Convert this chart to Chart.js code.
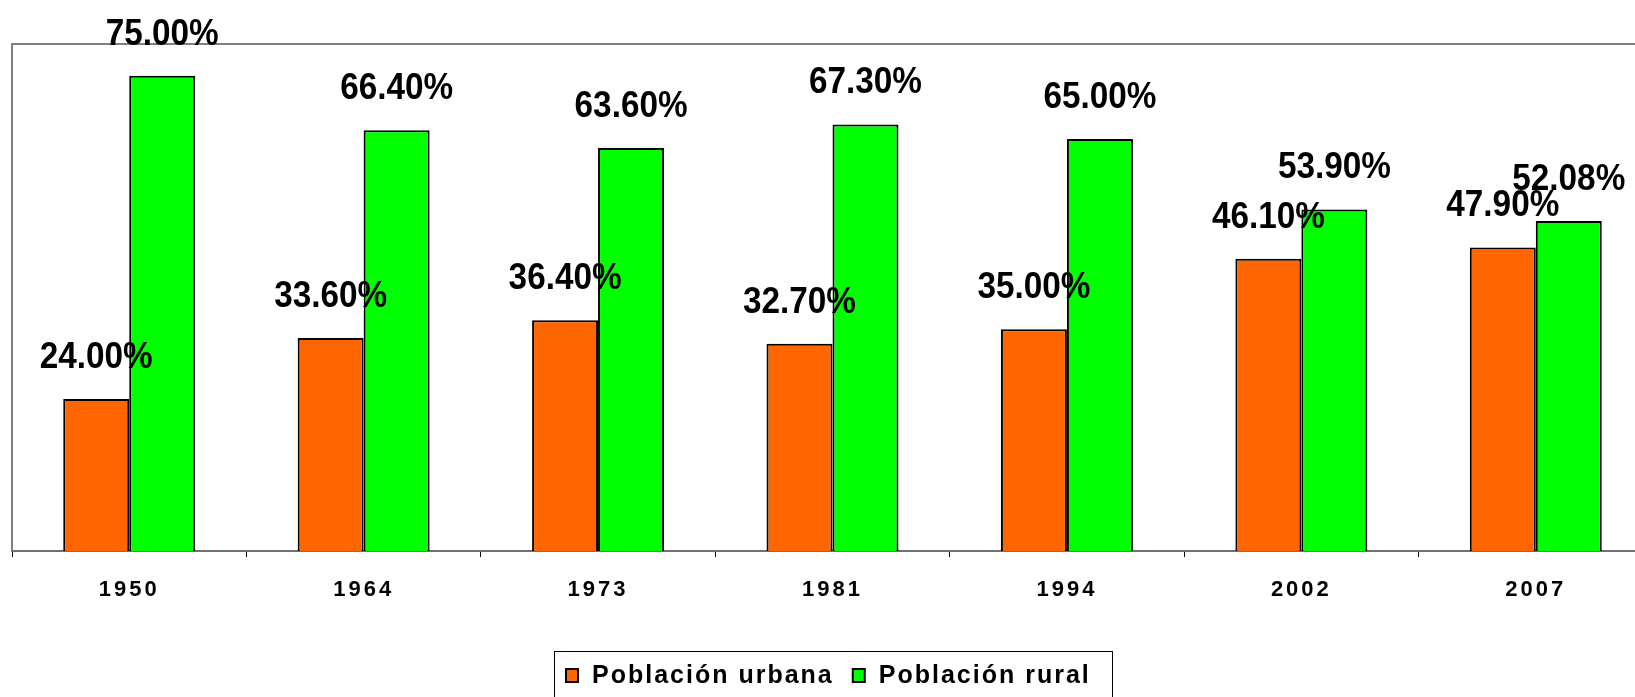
<!DOCTYPE html>
<html><head><meta charset="utf-8">
<script src="https://cdn.jsdelivr.net/npm/chart.js@4.4.0/dist/chart.umd.min.js"></script>
<style>
html,body{margin:0;padding:0;background:#fff;overflow:hidden;}
#wrap{width:1635px;height:697px;overflow:hidden;position:relative;background:#fff;}
#c{position:absolute;left:0;top:0;}
</style></head><body>
<div id="wrap"><canvas id="c" width="1655" height="697"></canvas></div>
<script>
const categories = ['1950','1964','1973','1981','1994','2002','2007'];
const urbana = [24.00, 33.60, 36.40, 32.70, 35.00, 46.10, 47.90];
const rural  = [75.00, 66.40, 63.60, 67.30, 65.00, 53.90, 52.08];
const seriesNames = ['Población urbana', 'Población rural'];
const yMin = 0, yMax = 80;

const FONT = '"Liberation Sans", Arial, sans-serif';

const frameAndLabels = {
  id: 'frameAndLabels',
  beforeDraw(chart) {
    chart.ctx.letterSpacing = '3px';
  },
  afterDatasetsDraw(chart) {
    const ctx = chart.ctx;
    const a = chart.chartArea;
    ctx.save();
    ctx.letterSpacing = '0px';
    ctx.strokeStyle = '#808080';
    ctx.lineWidth = 2;
    ctx.beginPath();
    ctx.moveTo(a.left, a.bottom);
    ctx.lineTo(a.left, a.top);
    ctx.lineTo(a.right, a.top);
    ctx.stroke();
    chart.data.datasets.forEach((ds, i) => {
      const meta = chart.getDatasetMeta(i);
      meta.data.forEach((bar, j) => {
        const txt = ds.data[j].toFixed(2) + '%';
        ctx.save();
        ctx.translate(bar.x, bar.y - 31);
        ctx.scale(0.9, 1);
        ctx.font = 'bold 37px ' + FONT;
        ctx.textAlign = 'center';
        ctx.textBaseline = 'alphabetic';
        ctx.fillStyle = '#000';
        ctx.fillText(txt, 0, 0);
        ctx.restore();
      });
    });
    ctx.restore();
  },
  afterDraw(chart) {
    const ctx = chart.ctx;
    ctx.save();
    ctx.letterSpacing = '2px';
    ctx.font = 'bold 25px ' + FONT;
    ctx.textBaseline = 'alphabetic';
    ctx.textAlign = 'left';
    ctx.strokeStyle = '#000';
    ctx.lineWidth = 1;
    ctx.strokeRect(554.5, 651.5, 558, 60);
    let x = 566;
    chart.data.datasets.forEach((ds, i) => {
      ctx.fillStyle = ds.backgroundColor;
      ctx.fillRect(x, 669, 12, 13);
      ctx.strokeStyle = '#000';
      ctx.lineWidth = 2;
      ctx.strokeRect(x, 669, 12, 13);
      ctx.fillStyle = '#000';
      ctx.fillText(ds.label, x + 26, 683);
      x = x + 26 + ctx.measureText(ds.label).width + 19;
    });
    ctx.restore();
  }
};

new Chart(document.getElementById('c'), {
  type: 'bar',
  data: {
    labels: categories,
    datasets: [
      { label: seriesNames[0], data: urbana, backgroundColor: '#FF6600', borderColor: '#000', borderWidth: 2 },
      { label: seriesNames[1], data: rural,  backgroundColor: '#00FF00', borderColor: '#000', borderWidth: 2 }
    ]
  },
  options: {
    responsive: false,
    animation: false,
    events: [],
    layout: { padding: { left: 12, top: 44, right: 2, bottom: 0 } },
    plugins: { legend: { display: false }, tooltip: { enabled: false } },
    datasets: { bar: { categoryPercentage: 0.563, barPercentage: 1 } },
    scales: {
      x: {
        offset: true,
        grid: { display: true, drawOnChartArea: false, drawTicks: true, tickLength: 6, color: '#000', lineWidth: 1, offset: true },
        border: { display: true, color: '#707070', width: 2 },
        ticks: { color: '#000', font: { family: FONT, size: 22, weight: 'bold' }, padding: 20, maxRotation: 0 },
        afterFit(scale) { scale.height = 146; }
      },
      y: { display: false, min: yMin, max: yMax }
    }
  },
  plugins: [frameAndLabels]
});
</script>
</body></html>
